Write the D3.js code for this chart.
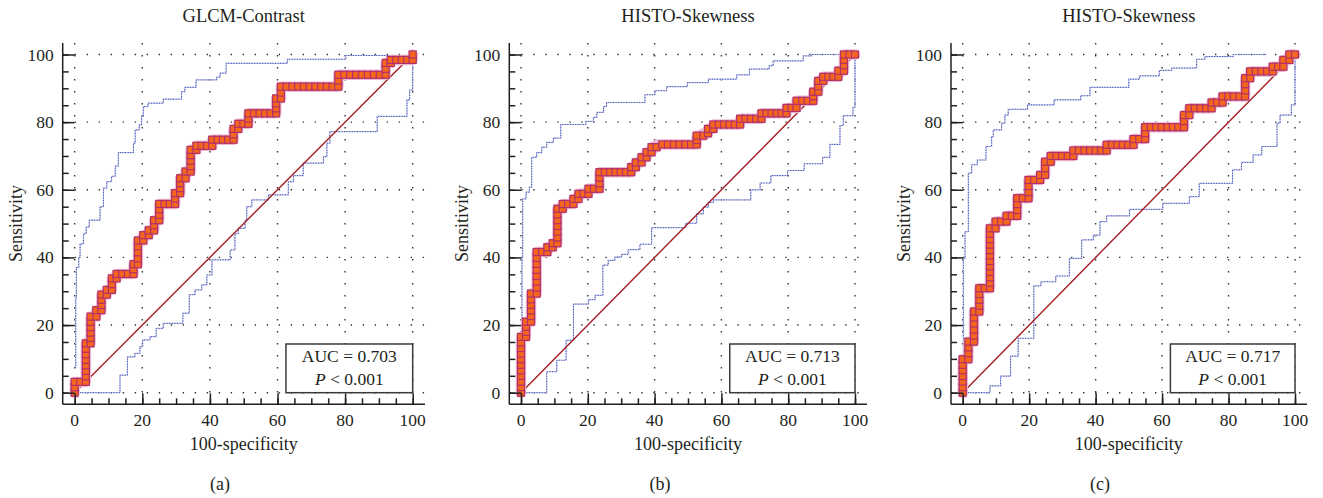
<!DOCTYPE html>
<html>
<head>
<meta charset="utf-8">
<script src="https://cdn.jsdelivr.net/npm/d3@7"></script>
<style>
  body { margin: 0; background: #fff; }
  text { font-family: "Liberation Serif", "DejaVu Serif", serif; fill: #231f20; }
</style>
</head>
<body>
<div id="chart"></div>
<script>
// ROC curves, step corners [100-specificity, sensitivity] (step-after: across, then up)
const rocA = [[0,0],[0,3.2],[3.3,14.6],[4.7,22.5],[6.4,24.4],[7.9,29],[9.5,30.4],[11,33.8],[12.4,35.1],[17.4,38],[18.7,45],[20.3,46.6],[21.9,48],[23.5,51],[25,55.8],[29.7,59],[31.2,63.4],[32.8,65.4],[34.3,71.8],[36,73],[40.7,74.8],[47,78],[48.4,79.5],[51.4,82.6],[59.6,87],[61,90.5],[78,94],[92,97.5],[93.5,98.4],[100,100]];
const rocB = [[0,0],[0,16.5],[1.5,21],[3,29.3],[4.7,41.6],[7.9,43],[9.5,44.2],[10.9,54.4],[12.5,55.8],[15.7,57.3],[17.2,58.8],[20.2,60.3],[23.5,65.2],[33,66.7],[34.4,68.1],[36.1,69.6],[37.6,71.1],[39.1,72.6],[40.6,73.4],[52.6,76],[54.6,76.7],[56,78],[57.6,79.3],[65.6,81],[72,82.6],[79.5,84.2],[82.5,86.3],[87.5,89],[89,92.2],[90.5,93.4],[95,95.2],[96.7,100],[100,100]];
const rocC = [[0,0],[0,9.9],[1.7,15.1],[3.4,24],[5,30.9],[8.2,48.6],[9.9,50.6],[13.2,52.3],[16.4,57.5],[19.8,62.9],[23.3,64.4],[24.8,68.3],[26.5,70],[33.3,71.6],[43.3,73.3],[51.4,75],[54.9,78.5],[66.6,82.1],[68.2,84.1],[74.9,85.8],[78.2,87.6],[85,93],[86.5,95],[93.3,96.4],[96.5,98.4],[98.3,100],[100,100]];

// 95% confidence bands
const upperA = [[0,7.5],[0.3,28],[0.5,37],[1.2,40],[1.6,44],[2.6,47],[3.4,49],[4.3,51],[7.5,55],[8.5,60.5],[9.5,62.4],[10.9,64],[12,67],[12.9,71],[17.4,73.8],[17.9,77.7],[19.1,79.2],[19.8,81.7],[20.3,84.6],[21.7,85.6],[26.2,86.8],[31.6,89],[32.6,90.3],[35.9,92.5],[42,93.3],[43,94.5],[44.8,97.4],[62.9,98.6],[80.2,99.7],[100,100]];
const lowerA = [[0,0],[13.4,5.2],[15.6,10.6],[17.8,11.6],[19.3,13.6],[20.1,15.6],[22.3,16.6],[24.1,19],[26.2,20.5],[32,23.5],[33.9,29],[35.6,30.4],[37.6,31.9],[39.1,34.8],[40.6,39.3],[46,42.2],[47.4,47],[48.4,48.6],[50.4,51],[50.9,55],[52.4,57],[57.3,58.5],[63.2,62.4],[64.7,64.2],[67.6,67.9],[73.6,69.8],[74.6,73.8],[75.5,77.2],[89.5,81.7],[98.3,86.6],[99.1,89.5],[100,98.4],[100,100]];
const upperB = [[0,0],[0.3,40],[0.5,57.3],[1.5,59.3],[2.5,60.8],[3.2,69.6],[4.7,71],[6.2,72.6],[7.7,74],[9.7,75.3],[11.9,79.3],[19.4,80.2],[21.7,81.4],[22.7,82.9],[24.7,84.6],[25.6,85.8],[37.1,88.1],[40.1,89.3],[43.6,90.5],[49.8,91.7],[56.1,92.7],[64.6,94],[68.4,95.7],[74.3,96.7],[75.5,98.1],[84.5,99.6],[87,100],[100,100]];
const lowerB = [[0,0],[7.7,6.2],[10.7,9.6],[13.5,15.5],[15.7,26.2],[20.2,27.5],[22.2,28.8],[24.5,37.7],[26.1,39.1],[28.1,40.1],[30.1,40.9],[32.1,42.3],[35.6,43.9],[39.1,48.8],[49.3,50.1],[52.6,52.9],[54.6,54.9],[56.1,56.3],[57.6,57],[68.8,60],[71.6,62],[74.8,64.2],[79.8,65.7],[84.8,67.7],[90.3,69.6],[92.5,73.4],[95.5,79],[96.5,81.9],[99.4,84.4],[100,89.3],[100,100]];
const upperC = [[0,10],[0.2,39.7],[0.7,47.6],[1.7,64.9],[2.7,67.4],[4.4,68.8],[7,72.8],[8.7,75.7],[9.2,77.7],[11.7,79.7],[12.7,82.1],[13.7,83.8],[19.5,85.1],[27.5,86.6],[35.5,87.8],[38.3,90.3],[50,92.7],[53.2,93.7],[59.2,95.3],[62.9,96],[70.4,98.6],[72.9,99.4],[81.4,100],[91.5,100]];
const lowerC = [[0,0],[8.2,2],[11.4,4.9],[14.4,10.8],[16.7,16.1],[21.4,31.6],[23.5,32.8],[28,34.5],[32.1,39.7],[35.8,45.2],[39.3,46.6],[41.3,50.6],[43.3,52.3],[50.2,54.2],[60.2,56],[68.2,58],[71.2,61.9],[81.2,65.9],[83.9,68.1],[87.4,70.3],[90,72.8],[94.6,79.7],[95.5,82.1],[98.9,85.1],[100,87.6],[100,100]];

const titles = ["GLCM-Contrast", "HISTO-Skewness", "HISTO-Skewness"];
const aucValues = ["0.703", "0.713", "0.717"];
const pValues = ["0.001", "0.001", "0.001"];
const letters = ["(a)", "(b)", "(c)"];
const tickValues = [0, 20, 40, 60, 80, 100];

// pixel layout of each panel
const layout = [
  { off: 0,   x0: 74.7,  x1: 412.7, left: 62.7,  right: 425 },
  { off: 440, x0: 521,   x1: 855,   left: 509.3, right: 867 },
  { off: 880, x0: 962.7, x1: 1295,  left: 951,   right: 1307 }
];
const yTop = 43, yBottom = 404.3, y0px = 392.7, y100px = 54.5;
const rocs = [rocA, rocB, rocC], uppers = [upperA, upperB, upperC], lowers = [lowerA, lowerB, lowerC];
const markStep = 1.65;

const svg = d3.select("#chart")
  .append("svg")
  .attr("width", 1323)
  .attr("height", 498);

// marker positions along the staircase, one per ROC operating point
function rocPoints(verts, step) {
  let pts = [verts[0]];
  for (let i = 1; i < verts.length; i++) {
    const [px, py] = verts[i - 1], [cx, cy] = verts[i];
    const nx = Math.round((cx - px) / step), ny = Math.round((cy - py) / step);
    for (let k = 1; k <= nx; k++) pts.push([px + (cx - px) * k / nx, py]);
    for (let k = 1; k <= ny; k++) pts.push([cx, py + (cy - py) * k / ny]);
  }
  return pts;
}

layout.forEach(function (L, i) {
  const x = d3.scaleLinear().domain([0, 100]).range([L.x0, L.x1]);
  const y = d3.scaleLinear().domain([0, 100]).range([y0px, y100px]);
  const g = svg.append("g");

  // dotted grid
  g.selectAll(".vgrid").data(tickValues).join("line")
    .attr("x1", d => x(d)).attr("x2", d => x(d))
    .attr("y1", yTop).attr("y2", yBottom)
    .attr("stroke", "#333").attr("stroke-width", 1.4)
    .attr("stroke-dasharray", "1.4,10.6");
  g.selectAll(".hgrid").data(tickValues).join("line")
    .attr("x1", L.left).attr("x2", L.right)
    .attr("y1", d => y(d)).attr("y2", d => y(d))
    .attr("stroke", "#333").attr("stroke-width", 1.4)
    .attr("stroke-dasharray", "1.4,10.6");

  // confidence bands
  const step = d3.line().x(d => x(d[0])).y(d => y(d[1])).curve(d3.curveStepAfter);
  [uppers[i], lowers[i]].forEach(band => {
    g.append("path").attr("d", step(band))
      .attr("fill", "none").attr("stroke", "#b9bfe6").attr("stroke-width", 1.2);
    g.append("path").attr("d", step(band))
      .attr("fill", "none").attr("stroke", "#3445b0").attr("stroke-width", 1)
      .attr("stroke-dasharray", "1,1.6");
  });

  // reference diagonal
  g.append("line")
    .attr("x1", x(0)).attr("y1", y(0)).attr("x2", x(100)).attr("y2", y(100))
    .attr("stroke", "#a51c24").attr("stroke-width", 1.4);

  // ROC curve
  g.append("path").attr("d", step(rocs[i]))
    .attr("fill", "none").attr("stroke", "#ebb8cf").attr("stroke-width", 10.5)
    .attr("stroke-linejoin", "round").attr("stroke-linecap", "round");
  const ms = 7;
  g.selectAll(".mark").data(rocPoints(rocs[i], markStep)).join("rect")
    .attr("x", d => x(d[0]) - ms / 2).attr("y", d => y(d[1]) - ms / 2)
    .attr("width", ms).attr("height", ms)
    .attr("fill", "#f4661c").attr("stroke", "#b3306b").attr("stroke-width", 1.2);

  // axes
  g.append("line").attr("x1", L.left).attr("x2", L.left).attr("y1", yTop).attr("y2", yBottom)
    .attr("stroke", "#231f20").attr("stroke-width", 1.5);
  g.append("line").attr("x1", L.left).attr("x2", L.right).attr("y1", yBottom).attr("y2", yBottom)
    .attr("stroke", "#231f20").attr("stroke-width", 1.5);

  const minor = d3.range(0, 101, 5);
  g.append("g").attr("transform", `translate(${L.left},0)`)
    .call(d3.axisRight(y).tickValues(minor).tickSize(6).tickFormat(""))
    .call(a => a.select(".domain").remove());
  g.append("g").attr("transform", `translate(${L.left},0)`)
    .call(d3.axisRight(y).tickValues(tickValues).tickSize(12).tickFormat(""))
    .call(a => a.select(".domain").remove());
  g.append("g").attr("transform", `translate(0,${yBottom})`)
    .call(d3.axisTop(x).tickValues(minor).tickSize(6).tickFormat(""))
    .call(a => a.select(".domain").remove());
  g.append("g").attr("transform", `translate(0,${yBottom})`)
    .call(d3.axisTop(x).tickValues(tickValues).tickSize(11).tickFormat(""))
    .call(a => a.select(".domain").remove());
  g.selectAll(".tick line").attr("stroke", "#231f20").attr("stroke-width", 1.5);

  // tick labels
  g.selectAll(".ylab").data(tickValues).join("text")
    .attr("x", L.left - 9).attr("y", d => y(d) + 6)
    .attr("text-anchor", "end").style("font-size", "17.5px").text(d => d);
  g.selectAll(".xlab").data(tickValues).join("text")
    .attr("x", d => x(d)).attr("y", 425.5)
    .attr("text-anchor", "middle").style("font-size", "17.5px").text(d => d);

  // titles and axis labels
  const cx = (L.x0 + L.x1) / 2;
  g.append("text").attr("x", cx).attr("y", 22).attr("text-anchor", "middle")
    .style("font-size", "18.5px").text(titles[i]);
  g.append("text").attr("x", cx).attr("y", 450).attr("text-anchor", "middle")
    .style("font-size", "18px").text("100-specificity");
  g.append("text")
    .attr("transform", `translate(${L.left - 41},${(y0px + y100px) / 2}) rotate(-90)`)
    .attr("text-anchor", "middle").style("font-size", "18px").text("Sensitivity");
  g.append("text").attr("x", L.off + 220).attr("y", 490).attr("text-anchor", "middle")
    .style("font-size", "18px").text(letters[i]);

  // AUC box
  g.append("rect")
    .attr("x", x(62.5)).attr("y", y(14.4))
    .attr("width", x(100) - x(62.5)).attr("height", y(0) - y(14.4))
    .attr("fill", "#fff").attr("stroke", "#3a3a3a").attr("stroke-width", 1.5);
  const bx = x(81.25);
  g.append("text").attr("x", bx).attr("y", y(0) - 30.5).attr("text-anchor", "middle")
    .style("font-size", "17.5px").text("AUC = " + aucValues[i]);
  const pt = g.append("text").attr("x", bx).attr("y", y(0) - 8).attr("text-anchor", "middle")
    .style("font-size", "17.5px");
  pt.append("tspan").style("font-style", "italic").text("P");
  pt.append("tspan").text(" < " + pValues[i]);
});
</script>
</body>
</html>
